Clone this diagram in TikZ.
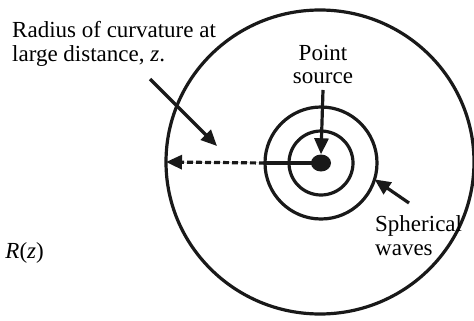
\documentclass[tikz,border=0pt]{standalone}
\usepackage{fontspec}
\setmainfont{Liberation Serif}
\usetikzlibrary{arrows.meta, shapes.geometric, positioning}

\begin{document}
\begin{tikzpicture}[
        x=1pt, y=-1pt,
        >={Triangle[length=16pt, width=14pt]},
        wave/.style={circle, draw=black!90, line width=3.2pt, inner sep=0pt, outer sep=0pt},
        label/.style={inner sep=0pt, align=left, font=\fontsize{23}{24}\selectfont},
        arrow/.style={->, line width=3.2pt, draw=black!90, fill=black!90},
        dasharrow/.style={arrow, dash pattern=on 6pt off 3pt}
    ]
    \useasboundingbox (0,0) rectangle (474,321);

    % --- Source and wavefronts ---
    \node[ellipse, fill=black!90, minimum width=20pt, minimum height=17pt, inner sep=0pt] (src) at (321,163) {};
    \node[wave, minimum size=64pt] (inner) at (src.center) {};
    \node[wave, minimum size=112pt] (middle) at (src.center) {};
    \node[wave, ellipse, minimum width=308pt, minimum height=304pt] (outer) at (320,162) {};

    % --- Labels (base = last line) ---
    \node[label, anchor=base west] (radius) at (12,62) {Radius of curvature at\\large distance, \textit{z}.};
    \node[label, anchor=base east] (rz) at (44,258) {of \textit{R}(\textit{z})};
    \node[label, align=center, anchor=base] (point) at (323,84) {Point\\source};
    \node[label, anchor=base west] (spherical) at (375,255) {Spherical\\waves};

    \coordinate (radtail) at (150,79);
    \coordinate (radtip) at (217,146);
    \coordinate (sphtail) at (409,203);

    % --- Connections ---
    \draw[line width=3.2pt, draw=black!90] (src.center) -- (middle.west);
    \draw[dasharrow] (middle.west) -- (outer.west);
    \draw[arrow] (radtail) -- (radtip);
    \draw[arrow] (point.south |- 0,90) -- (src.north);
    \draw[arrow] (sphtail) -- (middle.-17);

\end{tikzpicture}
\end{document}
